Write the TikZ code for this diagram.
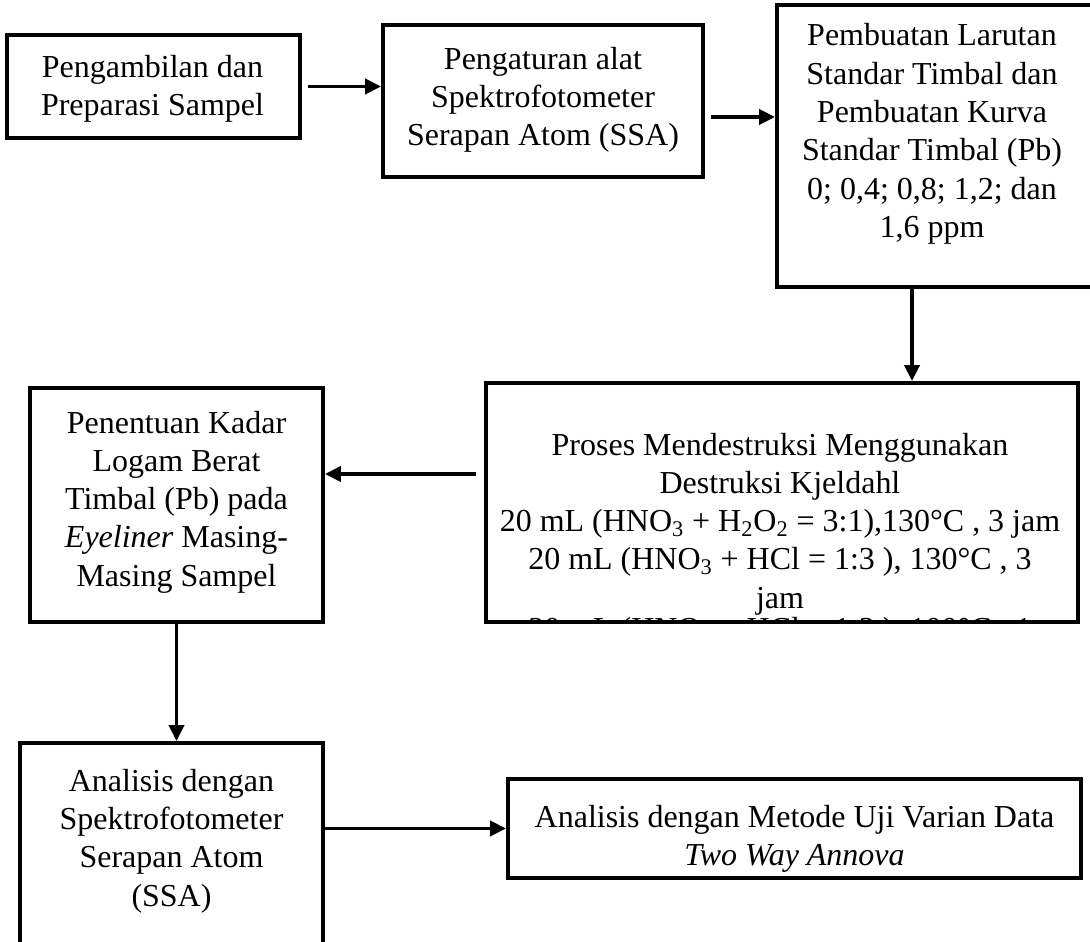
\documentclass[tikz,border=0pt]{standalone}
\usepackage{fontspec}
\setmainfont{Liberation Serif}
\usetikzlibrary{arrows.meta, positioning, calc}
\tikzset{
  frame/.style={rectangle, draw=black, line width=2.2pt, inner sep=0pt},
  txt/.style={align=center, inner sep=0pt,
    font=\fontsize{18.2}{21.8}\selectfont},
  arrow/.style={-{Triangle[length=0.32cm, width=0.3cm]}, line width=2.2pt, color=black}
}

\begin{document}
\begin{tikzpicture}
  % Page size
  \useasboundingbox (0,0) rectangle (21.8,18.82);
  \fill[white] (0,0) rectangle (21.8,18.82);

  % Top row
  \node[frame, minimum width=5.86cm, minimum height=2.06cm] (sampel) at (3.07,17.09) {};
  \node[txt] (t_sampel) at (3.05,17.04) {Pengambilan dan\\Preparasi Sampel};

  \node[frame, minimum width=6.4cm, minimum height=3.04cm] (alat) at (10.86,16.80) {};
  \node[txt] (t_alat) at (10.86,16.82) {Pengaturan alat\\Spektrofotometer\\Serapan Atom (SSA)};

  \node[frame, minimum width=6.34cm, minimum height=5.64cm] (kurva) at (18.71,15.90) {};
  \node[txt] (t_kurva) at (18.64,16.14) {Pembuatan Larutan\\Standar Timbal dan\\Pembuatan Kurva\\Standar Timbal (Pb)\\0; 0,4; 0,8; 1,2; dan\\1,6 ppm};

  % Middle row
  \node[frame, minimum width=11.84cm, minimum height=4.78cm] (destr) at (15.64,8.77) {};
  \begin{scope}
    \clip (destr.north west) rectangle (destr.south east);
    \node[txt, anchor=north] (t_destr) at (15.6,10.17) {Proses Mendestruksi Menggunakan\\Destruksi Kjeldahl\\
      20 mL (HNO\textsubscript{3} + H\textsubscript{2}O\textsubscript{2} = 3:1),130°C , 3 jam\\
      20 mL (HNO\textsubscript{3} + HCl = 1:3 ), 130°C , 3\\jam\\[-4pt]
      20 mL (HNO\textsubscript{3} + HCl = 1:3 ), 100°C , 1};
  \end{scope}

  \node[frame, minimum width=5.86cm, minimum height=4.68cm] (kadar) at (3.53,8.72) {};
  \node[txt] (t_kadar) at (3.53,8.78) {Penentuan Kadar\\Logam Berat\\Timbal (Pb) pada\\\textit{Eyeliner} Masing-\\Masing Sampel};

  % Bottom row
  \node[frame, minimum width=6.06cm, minimum height=4.26cm] (ssa) at (3.43,1.83) {};
  \node[txt] (t_ssa) at (3.43,2.0) {Analisis dengan\\Spektrofotometer\\Serapan Atom\\(SSA)};

  \node[frame, minimum width=11.46cm, minimum height=1.98cm] (anova) at (15.89,2.25) {};
  \node[txt] (t_anova) at (15.89,2.04) {Analisis dengan Metode Uji Varian Data\\\textit{Two Way Annova}};

  % Arrows
  \draw[arrow] ([xshift=0.12cm]sampel.east) -- (sampel.east -| alat.west);
  \coordinate (a2) at ($(alat.east)+(0.12,-0.32)$);
  \draw[arrow] (a2) -- (a2 -| kurva.west);
  \coordinate (a3) at ([xshift=-0.47cm]kurva.south);
  \draw[arrow] (a3) -- (a3 |- destr.north);
  \coordinate (a4) at ($(destr.west)+(-0.16,0.57)$);
  \draw[arrow] (a4) -- (a4 -| kadar.east);
  \draw[arrow] (kadar.south) -- (kadar.south |- ssa.north);
  \draw[arrow] (ssa.east |- anova.west) -- (anova.west);
\end{tikzpicture}
\end{document}
